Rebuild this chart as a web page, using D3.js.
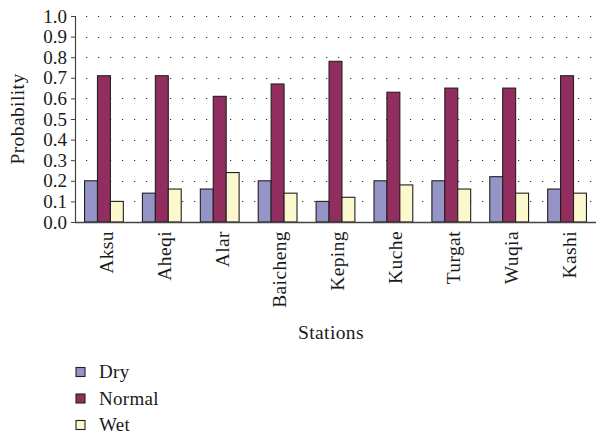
<!DOCTYPE html>
<html>
<head>
<meta charset="utf-8">
<script src="https://cdn.jsdelivr.net/npm/d3@7"></script>
<style>
  html, body { margin: 0; padding: 0; background: #fff; }
  svg { display: block; }
  text { font-family: "Liberation Serif", "Times New Roman", serif; fill: #1a1a1a; }
</style>
</head>
<body>
<svg id="chart" width="597" height="440"></svg>
<script>
// Seasonal state probabilities per station
const stations = ["Aksu", "Aheqi", "Alar", "Baicheng", "Keping", "Kuche", "Turgat", "Wuqia", "Kashi"];
const seriesNames = ["Dry", "Normal", "Wet"];
const dryValues    = [0.20, 0.14, 0.16, 0.20, 0.10, 0.20, 0.20, 0.22, 0.16];
const normalValues = [0.71, 0.71, 0.61, 0.67, 0.78, 0.63, 0.65, 0.65, 0.71];
const wetValues    = [0.10, 0.16, 0.24, 0.14, 0.12, 0.18, 0.16, 0.14, 0.14];
const yTicks = [0, 0.1, 0.2, 0.3, 0.4, 0.5, 0.6, 0.7, 0.8, 0.9, 1.0];
const colors = ["#9594c7", "#922e5f", "#fbf8cd"];

const seriesValues = [dryValues, normalValues, wetValues];
const rows = stations.map((s, i) => ({
  station: s,
  values: seriesNames.map((n, k) => ({ key: n, value: seriesValues[k][i], idx: k }))
}));

const svg = d3.select("#chart");
const plotLeft = 75, plotRight = 596, plotTop = 16, plotBottom = 222;

const x0 = d3.scaleBand().domain(stations).range([plotLeft, plotRight])
  .paddingInner(0.33).paddingOuter(0.165);
const x1 = d3.scaleBand().domain(seriesNames).range([0, x0.bandwidth()]);
const y = d3.scaleLinear().domain([0, 1]).range([plotBottom, plotTop]);

// dotted horizontal gridlines
svg.append("g").selectAll("line").data(yTicks.slice(1)).join("line")
  .attr("x1", plotLeft + 11).attr("x2", plotRight)
  .attr("y1", d => Math.round(y(d)) + 0.5).attr("y2", d => Math.round(y(d)) + 0.5)
  .attr("stroke", "#333").attr("stroke-width", 1.2)
  .attr("stroke-dasharray", "1.2,10.8");

// bars
const groups = svg.append("g").selectAll("g").data(rows).join("g")
  .attr("transform", d => `translate(${x0(d.station)},0)`);
groups.selectAll("rect").data(d => d.values).join("rect")
  .attr("x", d => x1(d.key))
  .attr("y", d => y(d.value))
  .attr("width", x1.bandwidth())
  .attr("height", d => y(0) - y(d.value))
  .attr("fill", d => colors[d.idx])
  .attr("stroke", "#231f20").attr("stroke-width", 1.1);

// y axis
const yAxis = svg.append("g").attr("transform", `translate(${plotLeft},0)`)
  .call(d3.axisLeft(y).tickValues(yTicks).tickFormat(d3.format(".1f")).tickSize(4).tickPadding(4));
yAxis.select(".domain").attr("stroke", "#444").attr("stroke-width", 1.2);
yAxis.selectAll(".tick line").attr("stroke", "#444");
yAxis.selectAll(".tick text").style("font-size", "19px").style("font-family", "Liberation Serif, serif").attr("fill", "#1a1a1a");

// x baseline
svg.append("line").attr("x1", plotLeft).attr("x2", plotRight)
  .attr("y1", plotBottom + 0.5).attr("y2", plotBottom + 0.5)
  .attr("stroke", "#444").attr("stroke-width", 1.4);

// station labels, rotated
svg.append("g").selectAll("text").data(stations).join("text")
  .attr("transform", d => `translate(${x0(d) + x0.bandwidth() / 2 + 2},${plotBottom + 9}) rotate(-90)`)
  .attr("text-anchor", "end")
  .attr("dy", "0.35em")
  .style("font-size", "19.5px")
  .style("letter-spacing", "0.4px")
  .text(d => d);

// axis titles
svg.append("text")
  .attr("transform", `translate(24,119) rotate(-90)`)
  .attr("text-anchor", "middle")
  .style("font-size", "19.5px").style("letter-spacing", "0.4px")
  .text("Probability");
svg.append("text")
  .attr("x", 331).attr("y", 339)
  .attr("text-anchor", "middle")
  .style("font-size", "19.5px").style("letter-spacing", "0.4px")
  .text("Stations");

// legend
const legend = svg.append("g").selectAll("g").data(seriesNames).join("g")
  .attr("transform", (d, i) => `translate(76,${372 + i * 26.5})`);
legend.append("rect")
  .attr("x", 0).attr("y", -4.5).attr("width", 9).attr("height", 9)
  .attr("fill", (d, i) => colors[i]).attr("stroke", "#231f20").attr("stroke-width", 1.1);
legend.append("text")
  .attr("x", 23).attr("y", 0).attr("dy", "0.33em")
  .style("font-size", "19px").style("letter-spacing", "0.3px")
  .text(d => d);
</script>
</body>
</html>
